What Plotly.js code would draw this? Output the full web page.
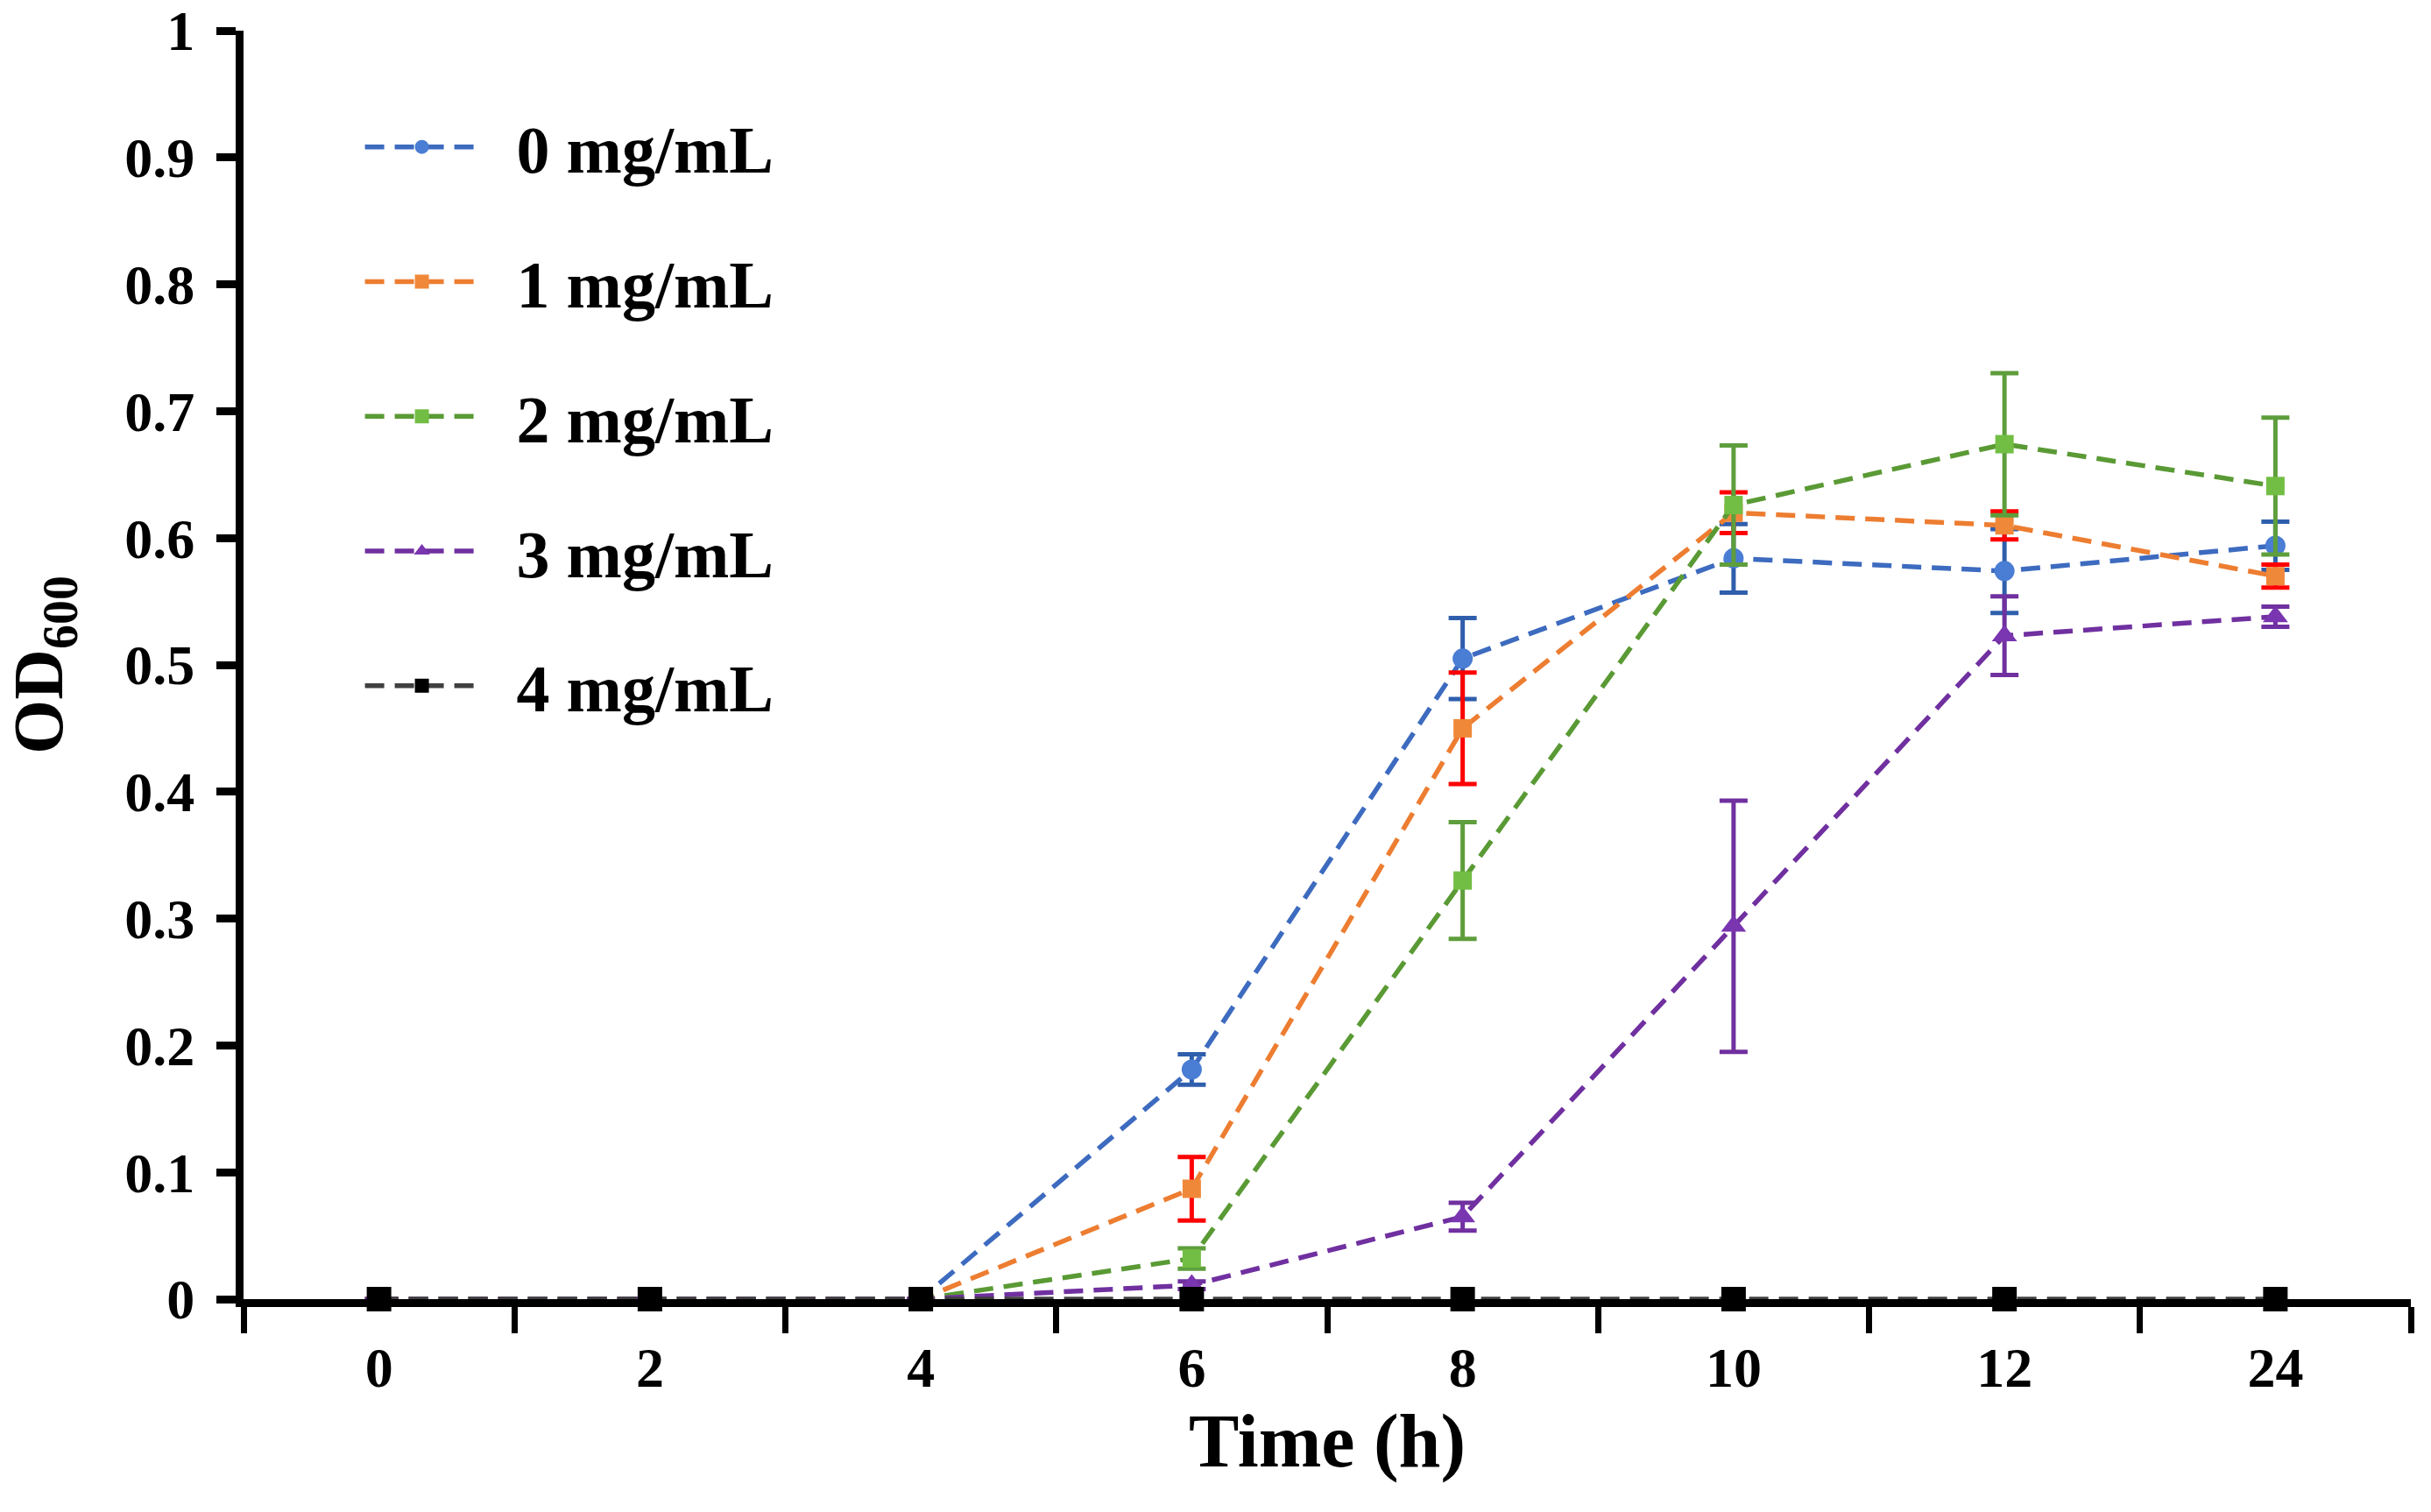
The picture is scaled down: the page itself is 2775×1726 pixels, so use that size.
<!DOCTYPE html>
<html>
<head>
<meta charset="utf-8">
<script src="https://cdn.plot.ly/plotly-3.0.1.min.js"></script>
<style>
html,body{margin:0;padding:0;background:#fff;}
#chart{width:2775px;height:1726px;}
</style>
</head>
<body>
<div id="chart"></div>
<script>
// ---- data ----
const categories = ['0', '2', '4', '6', '8', '10', '12', '24'];
const seriesNames = ['0 mg/mL', '1 mg/mL', '2 mg/mL', '3 mg/mL', '4 mg/mL'];

const od0 = [0, 0, 0, 0.181, 0.505, 0.584, 0.574, 0.594];
const err0 = [null, null, null, 0.012, 0.032, 0.027, 0.033, 0.019];

const od1 = [0, 0, 0, 0.087, 0.450, 0.620, 0.610, 0.570];
const err1 = [null, null, null, 0.025, 0.044, 0.016, 0.011, 0.009];

const od2 = [0, 0, 0, 0.032, 0.330, 0.626, 0.674, 0.641];
const err2 = [null, null, null, 0.008, 0.046, 0.047, 0.056, 0.054];

const od3 = [0, 0, 0, 0.011, 0.065, 0.294, 0.523, 0.538];
const err3 = [null, null, null, 0.003, 0.011, 0.099, 0.031, 0.008];

const od4 = [0, 0, 0, 0, 0, 0, 0, 0];

// ---- styles ----
const FONT = 'Liberation Serif, Times New Roman, serif';
const lineColors = ['#3D6BBF', '#ED7D31', '#5A9A35', '#7030A0', '#404040'];
const markerColors = ['#4A7DD4', '#F0883A', '#72BE44', '#7A35B0', '#000000'];
const errColors = ['#2F5EAC', '#FF0000', '#5E9E3C', '#7030A0', '#000000'];
const symbols = ['circle', 'square', 'square', 'triangle-up', 'square'];
const msizes = [23, 21, 21, 25, 28];
const values = [od0, od1, od2, od3, od4];
const errs = [err0, err1, err2, err3, null];
const NB = '\u00a0\u00a0';

const traces = values.map((v, i) => {
  const t = {
    type: 'scatter',
    mode: 'lines+markers',
    x: categories,
    y: v,
    name: NB + seriesNames[i],
    legendgroup: 'g' + i,
    cliponaxis: false,
    line: {color: lineColors[i], width: 5.5, dash: '22px,12px'},
    marker: {color: markerColors[i], symbol: symbols[i], size: msizes[i], line: {width: 0}}
  };
  if (errs[i]) {
    t.error_y = {type: 'data', array: errs[i], visible: true, color: errColors[i], thickness: 5, width: 16};
  }
  return t;
});

const layout = {
  width: 2775,
  height: 1726,
  margin: {l: 278, r: 23, t: 35, b: 243},
  paper_bgcolor: '#ffffff',
  plot_bgcolor: '#ffffff',
  font: {family: FONT, color: '#000000', weight: 'bold'},
  showlegend: true,
  legend: {
    x: 0.054, y: 0.947, xanchor: 'left', yanchor: 'top',
    bgcolor: 'rgba(0,0,0,0)',
    font: {family: FONT, size: 76, color: '#000', weight: 'bold'},
    traceorder: 'grouped',
    tracegroupgap: 52,
    itemwidth: 130
  },
  xaxis: {
    type: 'category',
    categoryorder: 'array',
    categoryarray: categories,
    range: [-0.5, 7.5],
    tickson: 'boundaries',
    ticks: 'outside',
    ticklen: 30,
    tickwidth: 7,
    tickcolor: '#000',
    showline: true,
    linewidth: 9,
    linecolor: '#000',
    showgrid: false,
    zeroline: false,
    layer: 'below traces',
    tickfont: {family: FONT, size: 64, color: '#000', weight: 'bold'},
    ticklabelstandoff: 14,
    title: {text: 'Time (h)', font: {family: FONT, size: 86, color: '#000', weight: 'bold'}, standoff: 19}
  },
  yaxis: {
    range: [0, 1],
    tick0: 0,
    dtick: 0.1,
    ticks: 'outside',
    ticklen: 22,
    tickwidth: 9,
    tickcolor: '#000',
    showline: true,
    linewidth: 9,
    linecolor: '#000',
    showgrid: false,
    zeroline: false,
    layer: 'below traces',
    tickfont: {family: FONT, size: 64, color: '#000', weight: 'bold'},
    ticklabelstandoff: 12,
    title: {text: 'OD<sub>600</sub>', font: {family: FONT, size: 80, color: '#000', weight: 'bold'}, standoff: 48}
  }
};

Plotly.newPlot('chart', traces, layout, {displayModeBar: false, staticPlot: true});
</script>
</body>
</html>
